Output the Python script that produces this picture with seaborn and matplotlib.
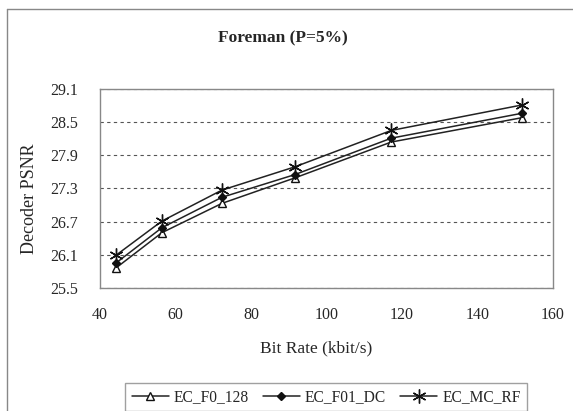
import matplotlib
matplotlib.use("Agg")
import matplotlib.pyplot as plt
import matplotlib.lines as mlines
import seaborn as sns
import pandas as pd

# valores
bit_rate = [44.2, 56.4, 72.3, 91.6, 117.2, 151.8]
ec_f0_128 = [25.86, 26.50, 27.03, 27.49, 28.14, 28.58]
ec_f01_dc = [25.95, 26.59, 27.14, 27.55, 28.21, 28.66]
ec_mc_rf = [26.09, 26.71, 27.27, 27.69, 28.35, 28.81]
series = ["EC_F0_128", "EC_F01_DC", "EC_MC_RF"]
x_ticks = [40, 60, 80, 100, 120, 140, 160]
y_ticks = [25.5, 26.1, 26.7, 27.3, 27.9, 28.5, 29.1]

df = pd.DataFrame({
    "rate": bit_rate * 3,
    "psnr": ec_f0_128 + ec_f01_dc + ec_mc_rf,
    "serie": [s for s in series for _ in bit_rate],
})

sns.set_style("white")
plt.rcParams['font.family'] = ['Liberation Serif', 'DejaVu Serif']

fig = plt.figure(figsize=(5.73, 4.11), dpi=100)
ax = fig.add_axes([0.1745, 0.2993, 0.7901, 0.4842])

estilos = {
    "EC_F0_128": dict(marker="^", markerfacecolor="white", markersize=6),
    "EC_F01_DC": dict(marker="D", markerfacecolor="#111111", markersize=4.5),
    "EC_MC_RF": dict(marker=(6, 2, 0), markerfacecolor="#111111", markersize=10),
}
for nome in series:
    sub = df[df["serie"] == nome]
    sns.lineplot(data=sub, x="rate", y="psnr", ax=ax, color="#222222",
                 linewidth=1.1, markeredgecolor="#111111", markeredgewidth=1.0,
                 label=nome, **estilos[nome])

ax.set_xlim(40, 160)
ax.set_ylim(25.5, 29.1)
ax.set_xticks(x_ticks)
ax.set_yticks(y_ticks)
ax.set_yticklabels([f"{v:.1f}" for v in y_ticks])
ax.tick_params(axis="x", direction="in", length=4, color="#666666", labelsize=11.5, pad=14)
ax.tick_params(axis="y", direction="out", length=0, labelsize=11.5, pad=16)
ax.yaxis.grid(True, linestyle=(0, (3, 3)), color="#555555", linewidth=0.8)
ax.xaxis.grid(False)
for sp in ax.spines.values():
    sp.set_color("#888888")
    sp.set_linewidth(1.0)

ax.set_xlabel("Bit Rate (kbit/s)", fontsize=12.5)
ax.set_ylabel("Decoder PSNR", fontsize=13)
ax.xaxis.set_label_coords(0.477, -0.262)
ax.yaxis.set_label_coords(-0.137, 0.447)
fig.text(283 / 573, 1 - 38 / 411, "Foreman (P=5%)", ha="center", va="center",
         fontsize=12.5, fontweight="bold")

ax.get_legend().remove()
h, l = ax.get_legend_handles_labels()
leg = fig.legend(h, l, loc="center", bbox_to_anchor=(326 / 573, 1 - 397 / 411),
                 ncol=3, fontsize=11.2, frameon=True, fancybox=False,
                 handlelength=2.4, handletextpad=0.3, columnspacing=0.9,
                 borderpad=0.4, edgecolor="#888888")
leg.get_frame().set_linewidth(1.0)

# moldura da figura (so esquerda e topo aparecem)
x0, y0 = 7 / 573, 1 - 9 / 411
fig.lines.append(mlines.Line2D([x0, x0], [0, y0], transform=fig.transFigure,
                               color="#888888", linewidth=1.0))
fig.lines.append(mlines.Line2D([x0, 1], [y0, y0], transform=fig.transFigure,
                               color="#888888", linewidth=1.0))

fig.savefig("out.png", dpi=100)
